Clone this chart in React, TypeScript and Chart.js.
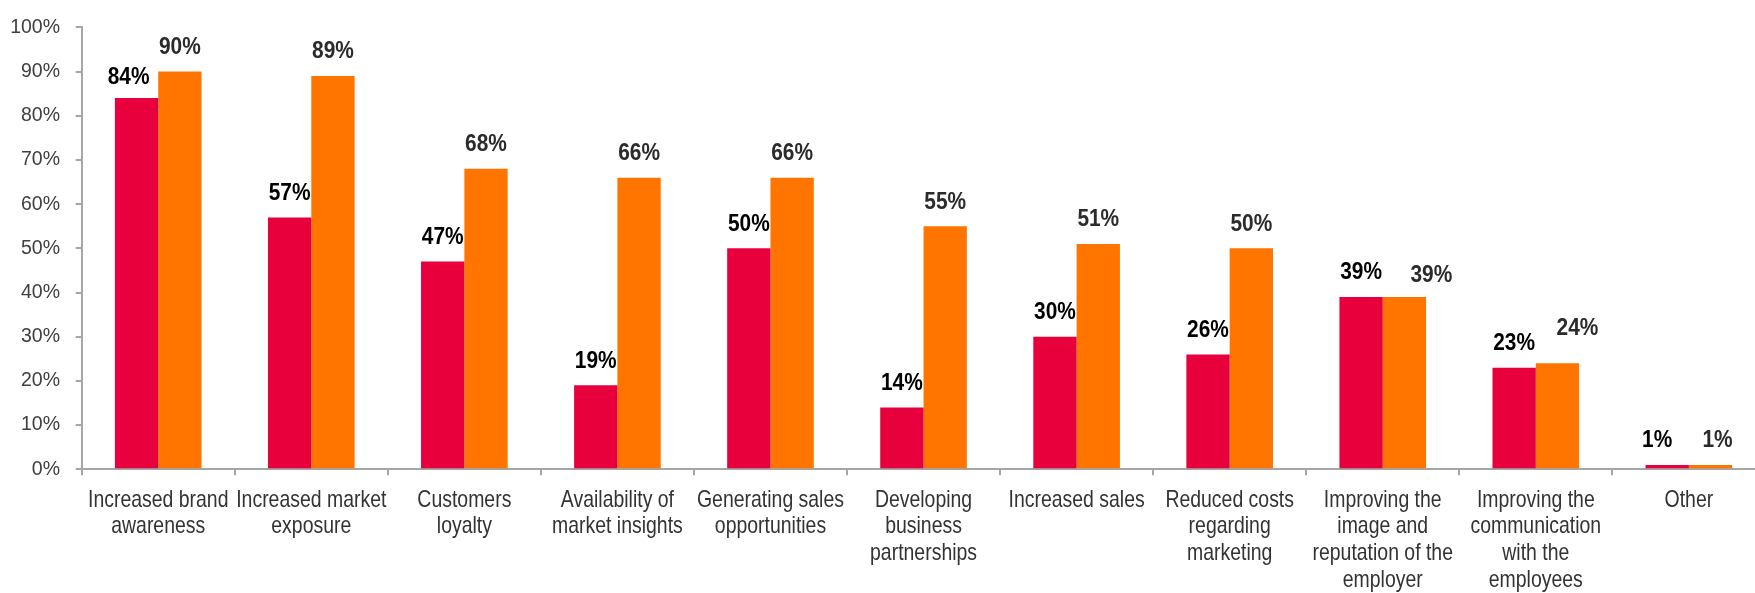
import React, { useEffect, useRef } from "react";
import { Chart, registerables } from "chart.js";

Chart.register(...registerables);

const categories: string[][] = [
  ["Increased brand", "awareness"],
  ["Increased market", "exposure"],
  ["Customers", "loyalty"],
  ["Availability of", "market insights"],
  ["Generating sales", "opportunities"],
  ["Developing", "business", "partnerships"],
  ["Increased sales"],
  ["Reduced costs", "regarding", "marketing"],
  ["Improving the", "image and", "reputation of the", "employer"],
  ["Improving the", "communication", "with the", "employees"],
  ["Other"],
];

const seriesRed = [84, 57, 47, 19, 50, 14, 30, 26, 39, 23, 1];
const seriesOrange = [90, 89, 68, 66, 66, 55, 51, 50, 39, 24, 1];

const yMin = 0;
const yMax = 100;
const yStep = 10;

const SANS = '"Liberation Sans", Arial, sans-serif';
const RED = "#E8003C";
const ORANGE = "#FF7500";
const AXIS = "#A6A6A6";
const LABEL_COLORS = ["#000000", "#2b2b2b"];

const CANVAS_W = 1780;
const CANVAS_H = 593;
const AREA_LEFT = 81.7;
const AREA_RIGHT = 1765.4;
const AREA_TOP = 22.3;
const AREA_BOTTOM = 469.3;

// Narrow-face emulation (Arial Narrow is not installed)
const NARROW_SCALE = 0.81;
const BOLD_NARROW_SCALE = 0.87;
const LABEL_GAP = 17.6;

// manual label placement tweaks seen in the original: "dataset-index" -> [dx, dy]
const labelNudges: Record<string, [number, number]> = {
  "0-0": [-8, 3.6],
  "1-8": [27, 3],
  "1-9": [20, -11],
  "0-10": [-10, 0],
  "1-10": [7, 0],
};

const narrowText = (ctx: CanvasRenderingContext2D, text: string, x: number, y: number, sx: number) => {
  ctx.save();
  ctx.translate(x, y);
  ctx.scale(sx, 1);
  ctx.fillText(text, 0, 0);
  ctx.restore();
};

const categoryLabels = {
  id: "categoryLabels",
  afterDraw(chart: any) {
    const ctx = chart.ctx;
    const xs = chart.scales.x;
    ctx.save();
    ctx.font = `24px ${SANS}`;
    ctx.fillStyle = "#333333";
    ctx.textAlign = "center";
    ctx.textBaseline = "alphabetic";
    const firstBaseline = xs.top + 37.4;
    const lineH = 26.7;
    (chart.data.labels as string[][]).forEach((lines, i) => {
      const x = xs.getPixelForTick(i);
      lines.forEach((line, j) => {
        narrowText(ctx, line, x, firstBaseline + j * lineH, NARROW_SCALE);
      });
    });
    ctx.restore();
  },
};

const valueLabels = {
  id: "valueLabels",
  afterDatasetsDraw(chart: any) {
    const ctx = chart.ctx;
    ctx.save();
    ctx.font = `bold 24px ${SANS}`;
    ctx.textAlign = "center";
    ctx.textBaseline = "alphabetic";
    chart.data.datasets.forEach((ds: any, di: number) => {
      const meta = chart.getDatasetMeta(di);
      ctx.fillStyle = LABEL_COLORS[di];
      meta.data.forEach((bar: any, i: number) => {
        const v = ds.data[i];
        const [dx, dy] = labelNudges[`${di}-${i}`] || [0, 0];
        narrowText(ctx, `${v}%`, bar.x + dx, bar.y - LABEL_GAP + dy, BOLD_NARROW_SCALE);
      });
    });
    ctx.restore();
  },
};

export default function App() {
  const ref = useRef<HTMLCanvasElement>(null);

  useEffect(() => {
    const canvas = ref.current!;
    const chart = new Chart(canvas, {
      type: "bar",
      data: {
        labels: categories,
        datasets: [
          {
            label: "A",
            data: seriesRed,
            backgroundColor: RED,
            borderWidth: 0,
            barPercentage: 1,
            categoryPercentage: 0.566,
          },
          {
            label: "B",
            data: seriesOrange,
            backgroundColor: ORANGE,
            borderWidth: 0,
            barPercentage: 1,
            categoryPercentage: 0.566,
          },
        ],
      },
      options: {
        responsive: false,
        animation: false,
        events: [],
        layout: {
          padding: {
            left: 0,
            right: CANVAS_W - AREA_RIGHT,
            top: AREA_TOP,
            bottom: 0,
          },
        },
        plugins: {
          legend: { display: false },
          tooltip: { enabled: false },
        },
        scales: {
          x: {
            type: "category",
            offset: true,
            grid: {
              offset: true,
              drawOnChartArea: false,
              drawTicks: true,
              tickLength: 6,
              color: AXIS,
              lineWidth: 2,
            },
            border: { display: true, color: AXIS, width: 2 },
            ticks: {
              display: false,
              autoSkip: false,
              maxRotation: 0,
              minRotation: 0,
            },
            afterFit(scale: any) {
              scale.height = CANVAS_H - AREA_BOTTOM;
            },
          },
          y: {
            min: yMin,
            max: yMax,
            grid: {
              drawOnChartArea: false,
              drawTicks: true,
              tickLength: 6,
              color: AXIS,
              lineWidth: 2,
            },
            border: { display: true, color: AXIS, width: 2 },
            ticks: {
              stepSize: yStep,
              padding: 15.7,
              color: "#404040",
              font: { family: SANS, size: 19.5 },
              callback: (v: any) => `${v}%`,
            },
            afterFit(scale: any) {
              scale.width = AREA_LEFT;
            },
          },
        },
      },
      plugins: [valueLabels, categoryLabels],
    });
    return () => chart.destroy();
  }, []);

  return (
    <div
      style={{
        position: "fixed",
        left: 0,
        top: 0,
        width: 1755,
        height: 593,
        overflow: "hidden",
        background: "#ffffff",
      }}
    >
      <canvas ref={ref} width={CANVAS_W} height={CANVAS_H} style={{ display: "block" }} />
    </div>
  );
}
